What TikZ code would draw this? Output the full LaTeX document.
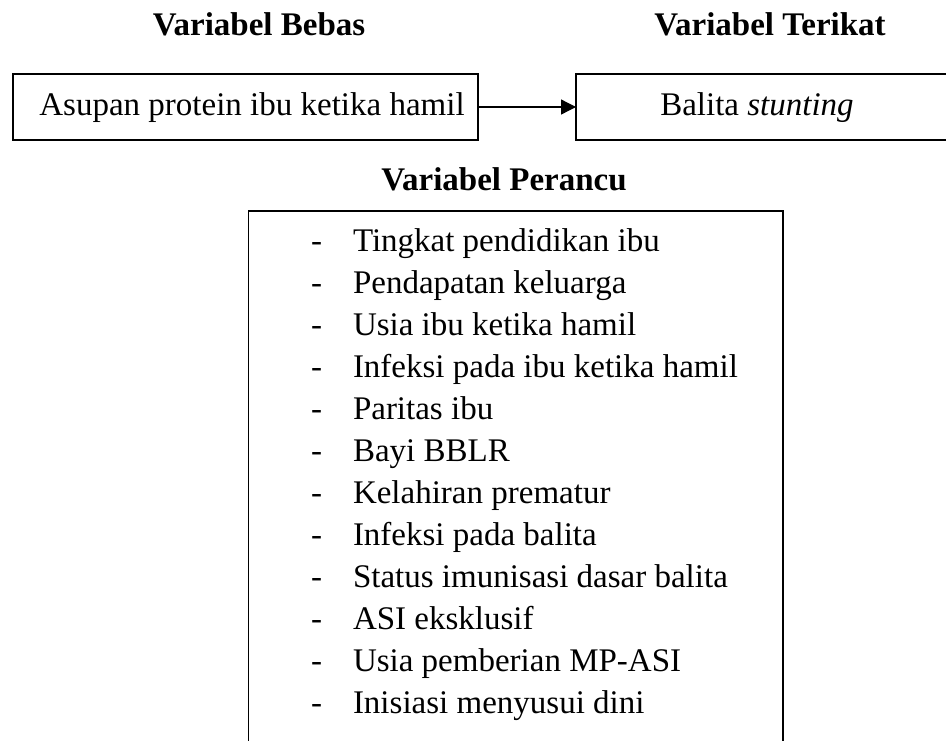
\documentclass[tikz,border=0pt]{standalone}
\usepackage{fontspec}
\setmainfont{Liberation Serif}
\usetikzlibrary{arrows.meta}
\tikzset{
  txt/.style={inner sep=0pt, outer sep=0pt, font=\fontsize{33}{40}\selectfont},
  ttl/.style={txt, font=\fontsize{33}{40}\selectfont\bfseries},
  heavybox/.style={draw, line width=2.8pt, inner sep=0pt, outer sep=0pt},
  thinline/.style={line width=1.3pt},
  conn/.style={line width=1.3pt, -{Triangle[length=15pt, width=15pt]}},
}
\begin{document}
\begin{tikzpicture}[x=1pt, y=-1pt]
\useasboundingbox (0,0) rectangle (946,740);
\clip (0,0) rectangle (946,740);
% titles
\node[ttl, anchor=base] (tbebas) at (259,35) {Variabel Bebas};
\node[ttl, anchor=base] (tterikat) at (770,35) {Variabel Terikat};
\node[ttl, anchor=base] (tperancu) at (504,190) {Variabel Perancu};
% top boxes
\node[heavybox, minimum width=465pt, minimum height=66pt] (bebas) at (245.5,107) {};
\node[heavybox, minimum width=394pt, minimum height=66pt] (terikat) at (773,107) {};
\node[txt, anchor=base] (lbebas) at (252,115) {Asupan protein ibu ketika hamil};
\node[txt, anchor=base] (lterikat) at (757,115) {Balita \textit{stunting}};
\draw[conn] (bebas.east) -- (terikat.west);
% confounder box (open at bottom)
\coordinate (pbl) at (248.5,760);
\coordinate (ptl) at (248.5,211);
\coordinate (ptr) at (783,211);
\coordinate (pbr) at (783,760);
\draw[thinline] (pbl) -- (ptl) -- (ptr) -- (pbr);
% list
\foreach \t [count=\i from 0] in {Tingkat pendidikan ibu, Pendapatan keluarga, Usia ibu ketika hamil, Infeksi pada ibu ketika hamil, Paritas ibu, Bayi BBLR, Kelahiran prematur, Infeksi pada balita, Status imunisasi dasar balita, ASI eksklusif, Usia pemberian MP-ASI, Inisiasi menyusui dini}{
  \node[txt, anchor=base west] (d\i) at (311,251+42*\i) {-};
  \node[txt, anchor=base west] (item\i) at (353,251+42*\i) {\t};
}
\end{tikzpicture}
\end{document}
